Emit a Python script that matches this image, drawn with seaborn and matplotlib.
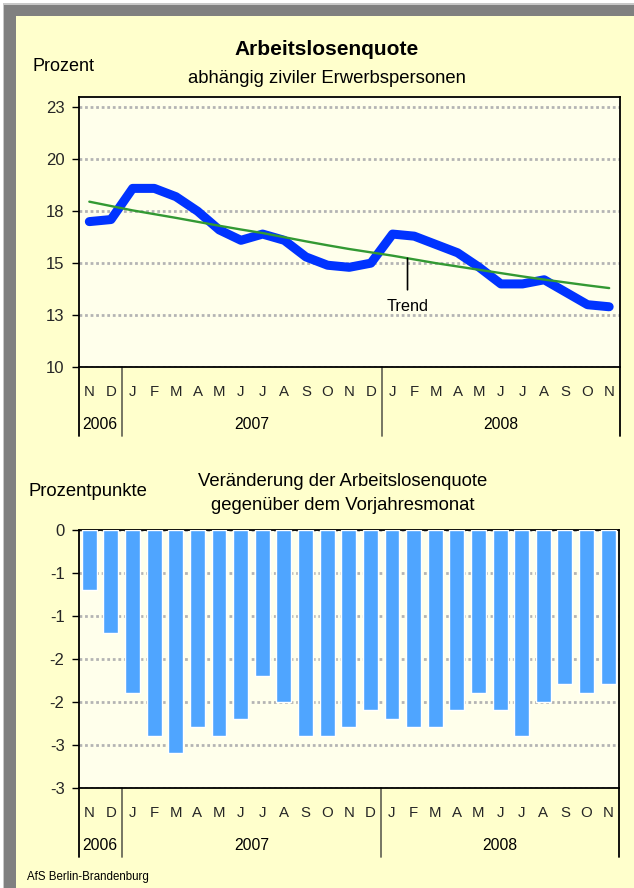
import numpy as np
import pandas as pd
import matplotlib
matplotlib.use("Agg")
import matplotlib.pyplot as plt
import matplotlib.transforms as mtransforms
from matplotlib.patches import Rectangle
from matplotlib.lines import Line2D
import seaborn as sns

# ---------------- data ----------------
periods = ["2006-11", "2006-12",
           "2007-01", "2007-02", "2007-03", "2007-04", "2007-05", "2007-06",
           "2007-07", "2007-08", "2007-09", "2007-10", "2007-11", "2007-12",
           "2008-01", "2008-02", "2008-03", "2008-04", "2008-05", "2008-06",
           "2008-07", "2008-08", "2008-09", "2008-10", "2008-11"]
month_letters = ["N", "D",
                 "J", "F", "M", "A", "M", "J", "J", "A", "S", "O", "N", "D",
                 "J", "F", "M", "A", "M", "J", "J", "A", "S", "O", "N"]
years = ["2006", "2007", "2008"]
year_counts = [2, 12, 11]

quote = [17.0, 17.1, 18.6, 18.6, 18.2, 17.5, 16.6, 16.1, 16.4, 16.1, 15.3, 14.9,
         14.8, 15.0, 16.4, 16.3, 15.9, 15.5, 14.8, 14.0, 14.0, 14.2, 13.6, 13.0, 12.9]
trend = [17.96, 17.75, 17.54, 17.36, 17.18, 16.99, 16.80, 16.62, 16.45, 16.25,
         16.05, 15.86, 15.68, 15.52, 15.36, 15.18, 15.00, 14.84, 14.68, 14.52,
         14.36, 14.21, 14.07, 13.93, 13.80]
change = [-0.7, -1.2, -1.9, -2.4, -2.6, -2.3, -2.4, -2.2, -1.7, -2.0, -2.4, -2.4,
          -2.3, -2.1, -2.2, -2.3, -2.3, -2.1, -1.9, -2.1, -2.4, -2.0, -1.8, -1.9, -1.8]

top_ticks = [10, 12.5, 15, 17.5, 20, 22.5]
top_ticklabels = ["10", "13", "15", "18", "20", "23"]
bot_ticks = [0, -0.5, -1, -1.5, -2, -2.5, -3]
bot_ticklabels = ["0", "-1", "-1", "-2", "-2", "-3", "-3"]

df = pd.DataFrame({"period": periods, "quote": quote, "trend": trend, "change": change})

# ---------------- style ----------------
sns.set_theme(style="white")
plt.rcParams["font.family"] = ["Liberation Sans", "DejaVu Sans"]
plt.rcParams["axes.edgecolor"] = "black"
plt.rcParams["text.color"] = "black"

W, H = 634, 888
fig = plt.figure(figsize=(W / 100, H / 100), dpi=100)
fig.patch.set_facecolor("white")


def fx(x):
    return x / W


def fy(y):
    return 1 - y / H


def prect(x0, y0, x1, y1, color):
    fig.add_artist(Rectangle((fx(x0), fy(y1)), fx(x1) - fx(x0), fy(y0) - fy(y1),
                             transform=fig.transFigure, facecolor=color,
                             edgecolor="none", zorder=-10))


# frame
prect(3, 3, W, H, "#C8C8C8")
prect(4, 5, W, H, "#808080")
prect(16, 16, W, H, "#FFFFCC")

PLOT_BG = "#FFFFEB"
GRID_KW = dict(color="#B4B4B4", linestyle=(0, (1, 1)), linewidth=2.0)


def style_axes(ax, yt, ytl, ylim):
    ax.set_facecolor(PLOT_BG)
    ax.set_ylim(*ylim)
    ax.set_xlim(-0.5, len(periods) - 0.5)
    ax.set_yticks(yt)
    ax.set_yticklabels(ytl)
    ax.set_xticks(range(len(periods)))
    ax.set_xticklabels(month_letters, va="baseline")
    ax.tick_params(axis="y", which="both", left=True, length=5, width=1,
                   color="black", pad=5, labelsize=12)
    ax.tick_params(axis="x", length=0, pad=21, labelsize=10.8)
    ax.set_xlabel("")
    ax.set_ylabel("")
    for s in ax.spines.values():
        s.set_visible(True)
        s.set_color("black")
        s.set_linewidth(1.3)
    ax.yaxis.grid(True, **GRID_KW)
    ax.xaxis.grid(False)
    ax.set_axisbelow(True)


def year_axis(ax, ax_height_px):
    trans = mtransforms.blended_transform_factory(ax.transData, ax.transAxes)
    bounds = [-0.5] + list(np.cumsum(year_counts) - 0.5)
    y_end = -69 / ax_height_px
    for i, b in enumerate(bounds):
        outer = i == 0 or i == len(bounds) - 1
        ax.add_line(Line2D([b, b], [0, y_end], transform=trans, clip_on=False,
                           color="black" if outer else "#6B6B5B", lw=1.3))
    for yr, a, b in zip(years, bounds[:-1], bounds[1:]):
        ax.text((a + b) / 2, -62 / ax_height_px, yr, transform=trans,
                ha="center", va="baseline", fontsize=11.3)


# ---------------- top chart ----------------
top_h = 367 - 97
ax1 = fig.add_axes([fx(78.5), fy(367), (620 - 78.5) / W, top_h / H])
sns.lineplot(data=df, x="period", y="quote", ax=ax1, color="#0033FF", lw=6.5,
             sort=False, errorbar=None, solid_capstyle="round",
             solid_joinstyle="round", zorder=3)
sns.lineplot(data=df, x="period", y="trend", ax=ax1, color="#339933", lw=1.7,
             sort=False, errorbar=None, zorder=4)
style_axes(ax1, top_ticks, top_ticklabels, (10, 23.0))
year_axis(ax1, top_h)

x_lab = 14.69
ax1.annotate("Trend", xy=(x_lab, np.interp(x_lab, range(len(trend)), trend)),
             xytext=(x_lab, 12.93), ha="center", va="center", fontsize=11.7,
             arrowprops=dict(arrowstyle="-", color="black", lw=1.2,
                             shrinkA=4, shrinkB=0), zorder=5)

fig.text(fx(327), fy(55), "Arbeitslosenquote", ha="center", va="baseline",
         fontsize=15, fontweight="bold")
fig.text(fx(327), fy(83), "abhängig ziviler Erwerbspersonen", ha="center",
         va="baseline", fontsize=13.3)
fig.text(fx(33), fy(71), "Prozent", ha="left", va="baseline", fontsize=13)

# ---------------- bottom chart ----------------
bot_h = 787.5 - 529.5
ax2 = fig.add_axes([fx(78.5), fy(787.5), (619 - 78.5) / W, bot_h / H])
sns.barplot(data=df, x="period", y="change", ax=ax2, color="#4FA5FF",
            saturation=1, width=0.69, errorbar=None, zorder=3)
style_axes(ax2, bot_ticks, bot_ticklabels, (-3, 0))
year_axis(ax2, bot_h)

fig.text(fx(343), fy(486), "Veränderung der Arbeitslosenquote", ha="center",
         va="baseline", fontsize=13.3)
fig.text(fx(343), fy(510), "gegenüber dem Vorjahresmonat", ha="center",
         va="baseline", fontsize=13.3)
fig.text(fx(28), fy(496), "Prozentpunkte", ha="left", va="baseline", fontsize=13.3)
fig.text(fx(27), fy(880), "AfS Berlin-Brandenburg", ha="left", va="baseline",
         fontsize=8.3)

fig.savefig("out.png", dpi=100, facecolor=fig.get_facecolor())
